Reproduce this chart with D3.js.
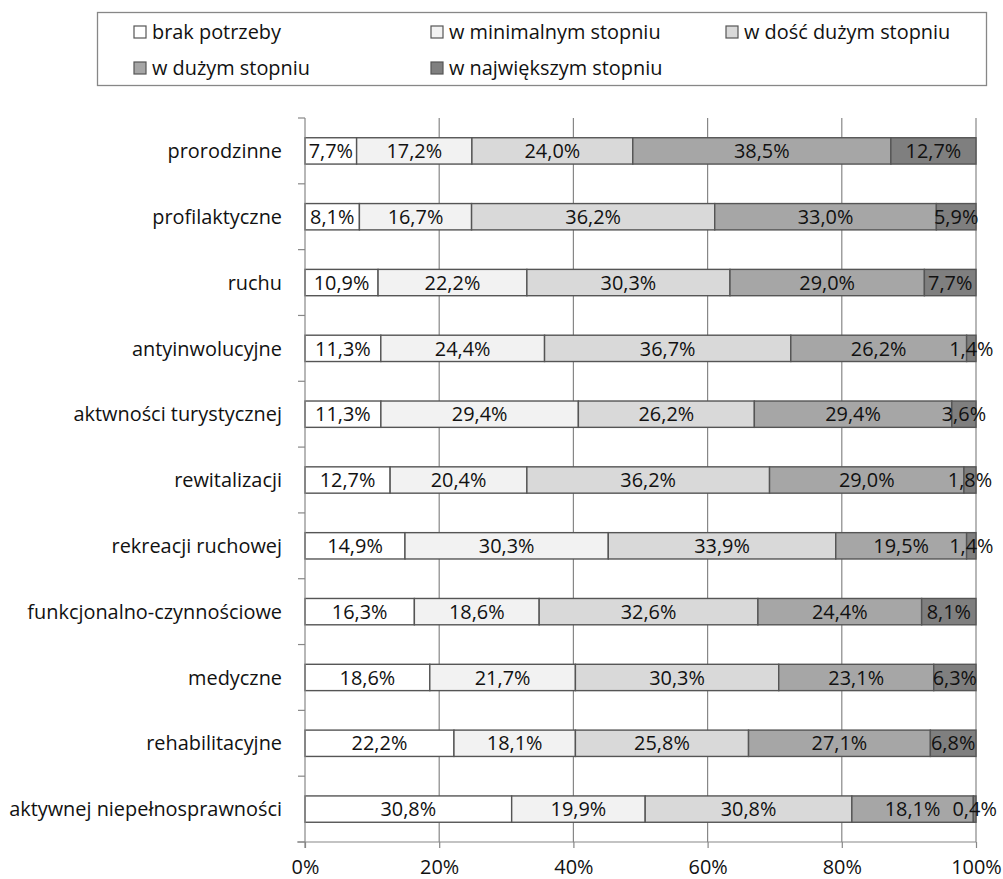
<!DOCTYPE html>
<html><head><meta charset="utf-8">
<script src="https://cdn.jsdelivr.net/npm/d3@7"></script>
<style>body{margin:0;background:#fff}svg{display:block}text{font-family:"Open Sans",sans-serif}</style>
</head><body><svg id="c" width="1003" height="879"></svg>
<script>
const categories = ["prorodzinne","profilaktyczne","ruchu","antyinwolucyjne","aktwności turystycznej","rewitalizacji","rekreacji ruchowej","funkcjonalno-czynnościowe","medyczne","rehabilitacyjne","aktywnej niepełnosprawności"];
const seriesNames = ["brak potrzeby","w minimalnym stopniu","w dość dużym stopniu","w dużym stopniu","w największym stopniu"];
const brakPotrzeby = [7.7,8.1,10.9,11.3,11.3,12.7,14.9,16.3,18.6,22.2,30.8];
const minimalny = [17.2,16.7,22.2,24.4,29.4,20.4,30.3,18.6,21.7,18.1,19.9];
const doscDuzy = [24.0,36.2,30.3,36.7,26.2,36.2,33.9,32.6,30.3,25.8,30.8];
const duzy = [38.5,33.0,29.0,26.2,29.4,29.0,19.5,24.4,23.1,27.1,18.1];
const najwiekszy = [12.7,5.9,7.7,1.4,3.6,1.8,1.4,8.1,6.3,6.8,0.4];
const xTicks = [0,0.2,0.4,0.6,0.8,1];
const colors = ["#ffffff","#f2f2f2","#d9d9d9","#a6a6a6","#7f7f7f"];

const FS = 19.9;
const svg = d3.select("#c");
const L=305, R=976, T=118, B=842;
const keys = ["s0","s1","s2","s3","s4"];
const allSeries=[brakPotrzeby,minimalny,doscDuzy,duzy,najwiekszy];
const rows = categories.map((c,i)=>{const o={cat:c};keys.forEach((k,j)=>o[k]=allSeries[j][i]);return o;});
const stack = d3.stack().keys(keys).offset(d3.stackOffsetExpand)(rows);

const x = d3.scaleLinear().domain([0,1]).range([L,R]);
const y = d3.scaleBand().domain(categories).range([T,B]).paddingInner(0.6).paddingOuter(0.3);
const yTickPos = d3.range(categories.length+1).map(i=>T+i*(B-T)/categories.length);

// gridlines
svg.append("g").selectAll("line").data(xTicks.slice(1)).join("line")
  .attr("x1",d=>x(d)).attr("x2",d=>x(d)).attr("y1",T).attr("y2",B)
  .attr("stroke","#878787").attr("stroke-width",1.2);

// bars
const fmt = v=>d3.format(".1f")(v).replace(".",",")+"%";
stack.forEach((s,j)=>{
  svg.append("g").selectAll("rect").data(s).join("rect")
    .attr("x",d=>x(d[0])).attr("width",d=>x(d[1])-x(d[0]))
    .attr("y",d=>y(d.data.cat)).attr("height",y.bandwidth())
    .attr("fill",colors[j]).attr("stroke","#555").attr("stroke-width",1.4);
});
stack.forEach((s,j)=>{
  svg.append("g").selectAll("text").data(s).join("text")
    .attr("x",d=>(x(d[0])+x(d[1]))/2).attr("y",d=>y(d.data.cat)+y.bandwidth()/2)
    .attr("dy","0.36em").attr("text-anchor","middle").attr("font-size",FS).attr("fill","#111")
    .text(d=>fmt(d.data[keys[j]]));
});

// y axis
const ya = svg.append("g");
ya.append("line").attr("x1",L).attr("x2",L).attr("y1",T).attr("y2",B+6).attr("stroke","#878787").attr("stroke-width",1.2);
ya.selectAll("line.t").data(yTickPos).join("line").attr("class","t")
  .attr("x1",L-7).attr("x2",L).attr("y1",d=>d).attr("y2",d=>d).attr("stroke","#878787").attr("stroke-width",1.2);
ya.selectAll("text").data(categories).join("text")
  .attr("x",L-23).attr("y",d=>y(d)+y.bandwidth()/2).attr("dy","0.36em")
  .attr("text-anchor","end").attr("font-size",FS).attr("fill","#111").text(d=>d);

// x axis
const xa = svg.append("g").attr("transform",`translate(0,${B})`)
  .call(d3.axisBottom(x).tickValues(xTicks).tickFormat(d3.format(".0%")).tickSize(6).tickPadding(12));
xa.select(".domain").attr("stroke","#878787").attr("stroke-width",1.2).attr("d",`M${L-8},0H${R}`);
xa.selectAll(".tick line").attr("stroke","#878787").attr("stroke-width",1.2);
xa.selectAll(".tick text").attr("font-size",FS).attr("fill","#111").attr("font-family","Open Sans");

// legend
const lg = svg.append("g");
lg.append("rect").attr("x",97.5).attr("y",12.5).attr("width",889).attr("height",73)
  .attr("fill","#fff").attr("stroke","#878787").attr("stroke-width",1.3);
const lpos = [[134,32],[431,32],[726,32],[134,68],[431,68]];
seriesNames.forEach((n,i)=>{
  const [lx,ly]=lpos[i];
  lg.append("rect").attr("x",lx).attr("y",ly-6).attr("width",12).attr("height",12)
    .attr("fill",colors[i]).attr("stroke","#555").attr("stroke-width",1.2);
  lg.append("text").attr("x",lx+18).attr("y",ly).attr("dy","0.36em").attr("font-size",FS).attr("fill","#111").text(n);
});
</script></body></html>
